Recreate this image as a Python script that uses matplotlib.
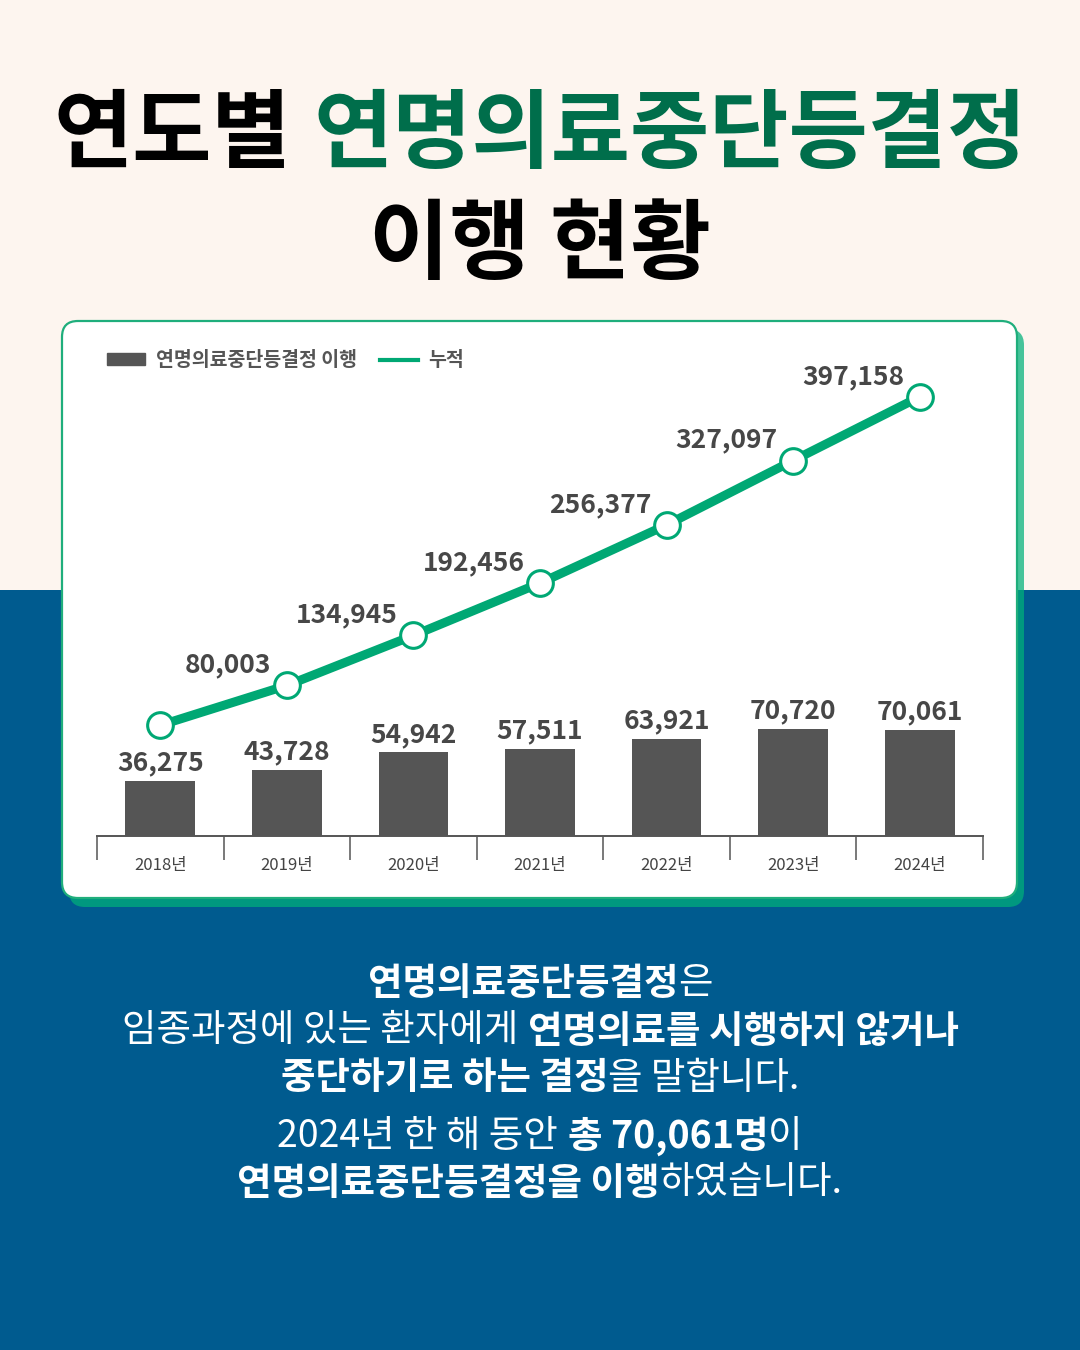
import numpy as np
import matplotlib
matplotlib.use('Agg')
import matplotlib.pyplot as plt
from matplotlib.patches import Rectangle, FancyBboxPatch, Patch
from matplotlib.lines import Line2D

plt.rcParams['font.family'] = ['Noto Sans CJK KR', 'DejaVu Sans']

years = ['2018년', '2019년', '2020년', '2021년', '2022년', '2023년', '2024년']
cases = [36275, 43728, 54942, 57511, 63921, 70720, 70061]
cumulative = [36275, 80003, 134945, 192456, 256377, 327097, 397158]

W, H = 1080, 1350
CREAM = '#fdf5ef'
BLUE = '#005b8f'
GREEN = '#00a874'
DKGREEN = '#006e4b'
BAR = '#555555'
LABEL = '#474747'

fig = plt.figure(figsize=(10.8, 13.5), dpi=100)

# background, card and shadow drawn in pixel units
bg = fig.add_axes([0, 0, 1, 1])
bg.set_xlim(0, W)
bg.set_ylim(H, 0)
bg.axis('off')
bg.add_patch(Rectangle((0, 0), W, 590, color=CREAM, lw=0))
bg.add_patch(Rectangle((0, 590), W, H - 590, color=BLUE, lw=0))
bg.add_patch(FancyBboxPatch((69, 329), 955, 578, boxstyle='round,pad=0,rounding_size=16',
                            fc='#00b07a', ec='none', alpha=0.72))
bg.add_patch(FancyBboxPatch((62, 321), 955, 577, boxstyle='round,pad=0,rounding_size=16',
                            fc='white', ec='#1fae7c', lw=1.6))


def px2fig(x, y):
    return x / W, 1 - y / H


def mixed_line(y, runs, size):
    """runs: (text, color, weight, gap_before) -> centered line at pixel y"""
    r = fig.canvas.get_renderer()
    texts, gaps = [], []
    for s, c, w, sp in runs:
        t = fig.text(0, 1 - y / H, s, color=c, fontsize=size, fontweight=w,
                     ha='left', va='center')
        texts.append(t)
        gaps.append(sp * size * 100 / 72 * 0.26)
    widths = [t.get_window_extent(r).width for t in texts]
    total = sum(widths) + sum(gaps)
    x = W / 2 - total / 2
    for t, wd, g in zip(texts, widths, gaps):
        x += g
        t.set_x(x / W)
        x += wd


# title
mixed_line(136, [('연도별', 'black', 'heavy', 0), ('연명의료중단등결정', DKGREEN, 'heavy', 1)], 62)
mixed_line(247, [('이행 현황', 'black', 'heavy', 0)], 63)

# chart
left, right, top, bottom = 97, 983, 380, 836
ax = fig.add_axes([left / W, 1 - bottom / H, (right - left) / W, (bottom - top) / H])
ax.set_facecolor('none')
x = np.arange(len(years))
ax.bar(x, cases, width=0.55, color=BAR, zorder=2)
ax.set_xlim(-0.5, len(years) - 0.5)
ax.set_ylim(0, 300000)
for i, v in enumerate(cases):
    ax.annotate(f'{v:,}', (i, v), xytext=(0, 3), textcoords='offset points',
                ha='center', va='bottom', fontsize=19, fontweight='bold', color=LABEL)

ax.set_xticks(x)
ax.set_xticklabels(years)
ax.set_xticks(np.arange(-0.5, len(years), 1), minor=True)
ax.tick_params(axis='x', which='major', length=0, pad=15, labelsize=12, labelcolor='#444444')
ax.tick_params(axis='x', which='minor', length=17, width=1.1, color=BAR, direction='out')
ax.set_yticks([])
for s in ['top', 'left', 'right']:
    ax.spines[s].set_visible(False)
ax.spines['bottom'].set_color(BAR)
ax.spines['bottom'].set_linewidth(1.4)

ax2 = ax.twinx()
ax2.set_facecolor('none')
ax2.plot(x, cumulative, color=GREEN, lw=6.5, marker='o', ms=18.5, mfc='white',
         mec=GREEN, mew=2.2, zorder=3)
ax2.set_ylim(-85400, 415600)
ax2.set_yticks([])
for s in ax2.spines.values():
    s.set_visible(False)
for i, v in enumerate(cumulative):
    if i == 0:
        continue
    ax2.annotate(f'{v:,}', (i, v), xytext=(-11, 5), textcoords='offset points',
                 ha='right', va='bottom', fontsize=19, fontweight='bold', color=LABEL)

handles = [Patch(color=BAR), Line2D([0], [0], color=GREEN, lw=3)]
fx, fy = px2fig(107, 351)
ax.legend(handles, ['연명의료중단등결정 이행', '누적'], loc='upper left',
          bbox_to_anchor=(fx, fy), bbox_transform=fig.transFigure, frameon=False,
          ncol=2, borderpad=0, borderaxespad=0, handlelength=1.95, handleheight=0.55,
          handletextpad=0.55, columnspacing=1.2,
          prop={'weight': 'bold', 'size': 14}, labelcolor='#555555')

# description
WH = 'white'
sz = 27
mixed_line(984, [('연명의료중단등결정', WH, 'bold', 0), ('은', WH, 'normal', 0)], sz)
mixed_line(1031, [('임종과정에 있는 환자에게', WH, 'normal', 0),
                  ('연명의료를 시행하지 않거나', WH, 'bold', 1)], sz)
mixed_line(1078, [('중단하기로 하는 결정', WH, 'bold', 0), ('을 말합니다.', WH, 'normal', 0)], sz)
mixed_line(1136, [('2024년 한 해 동안', WH, 'normal', 0), ('총 70,061명', WH, 'bold', 1),
                  ('이', WH, 'normal', 0)], sz)
mixed_line(1183, [('연명의료중단등결정을 이행', WH, 'bold', 0), ('하였습니다.', WH, 'normal', 0)], sz)

fig.savefig('out.png', dpi=100)
